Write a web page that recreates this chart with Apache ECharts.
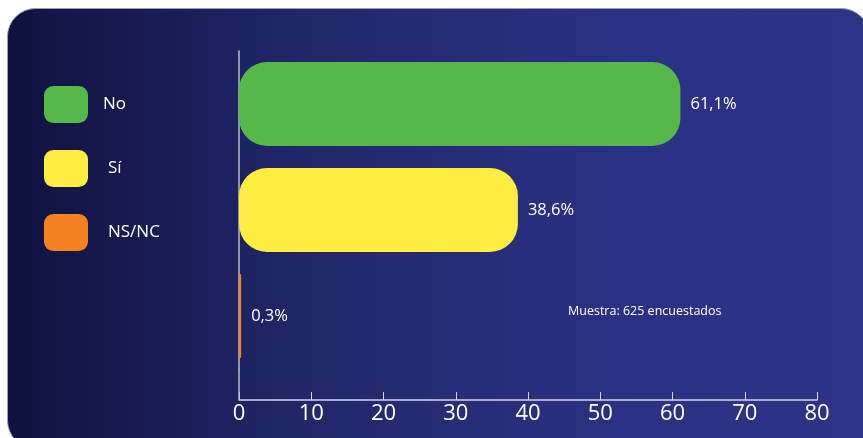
<!DOCTYPE html>
<html><head><meta charset="utf-8">
<script src="https://cdn.jsdelivr.net/npm/echarts@6/dist/echarts.min.js"></script>
<style>html,body{margin:0;padding:0;background:#fff}#c{width:863px;height:438px}</style>
</head><body><div id="c"></div>
<script>
const categories = ['No', 'Sí', 'NS/NC'];
const values = [61.1, 38.6, 0.3];
const colors = ['#56b849', '#ffed40', '#f58220'];
const xTicks = [0, 10, 20, 30, 40, 50, 60, 70, 80];
const note = 'Muestra: 625 encuestados';

const FONT = "'Open Sans', 'Noto Sans', sans-serif";
const chart = echarts.init(document.getElementById('c'), null, {renderer: 'canvas'});

const series = categories.map((name, i) => ({
  name: name,
  type: 'bar',
  stack: 'all',
  barWidth: 84,
  itemStyle: {color: colors[i], borderRadius: 28},
  label: {
    show: true, position: 'right', distance: 10,
    color: '#ffffff', fontSize: 16.5, fontFamily: FONT,
    formatter: p => String(p.value).replace('.', ',') + '%'
  },
  data: categories.map((c, j) => j === i ? values[i] : '-')
}));

chart.setOption({
  animation: false,
  graphic: [{
    type: 'rect', z: -10, silent: true,
    shape: {x: 7.5, y: 8.5, width: 862, height: 440, r: 28},
    style: {
      fill: new echarts.graphic.LinearGradient(0, 0, 1, 0, [
        {offset: 0, color: '#0f123f'},
        {offset: 0.35, color: '#22276a'},
        {offset: 0.7, color: '#2b3182'},
        {offset: 1, color: '#2d3486'}
      ]),
      stroke: '#9a9cc0', lineWidth: 1
    }
  }, {
    type: 'text', left: 568, top: 305, silent: true,
    style: {text: note, fill: '#ffffff', font: '12.5px ' + FONT}
  }],
  legend: {
    orient: 'vertical', left: 44, top: 86, padding: 0,
    itemWidth: 44, itemHeight: 37, itemGap: 27,
    icon: 'roundRect',
    textStyle: {color: '#ffffff', fontSize: 17, fontFamily: FONT},
    data: categories.map((c, i) => ({
      name: c,
      textStyle: {padding: [0, 0, 0, i === 0 ? 10 : 15]}
    }))
  },
  grid: {left: 239, right: 46, top: 51, bottom: 69},
  xAxis: {
    type: 'value', min: 0, max: 80, interval: 10, offset: 31,
    axisLine: {show: true, lineStyle: {color: '#d4d6e6', width: 1.5}},
    axisTick: {show: true, inside: true, length: 8, lineStyle: {color: '#d4d6e6'}},
    axisLabel: {
      color: '#ffffff', fontSize: 22, fontFamily: FONT, margin: 3,
      formatter: v => xTicks.includes(v) ? String(v) : ''
    },
    splitLine: {show: false}
  },
  yAxis: {
    type: 'category', inverse: true, data: categories,
    axisLine: {show: true, lineStyle: {color: '#b8bcd2', width: 1.5}},
    axisTick: {show: false}, axisLabel: {show: false}
  },
  series: series
});

// extend the y axis line down to the offset x axis
const x0 = chart.convertToPixel({xAxisIndex: 0}, 0);
const opt = chart.getOption();
opt.graphic[0].elements.push({
  type: 'line', silent: true, z: 5,
  shape: {x1: x0, y1: 369, x2: x0, y2: 400},
  style: {stroke: '#b8bcd2', lineWidth: 1.5}
});
chart.setOption({graphic: opt.graphic});
</script></body></html>
